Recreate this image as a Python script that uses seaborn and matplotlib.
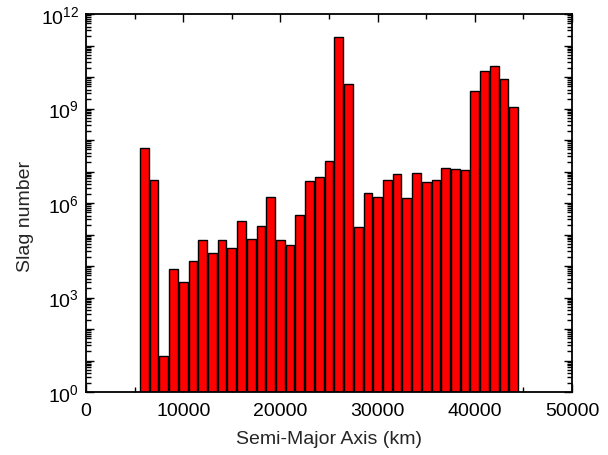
import matplotlib
matplotlib.use("Agg")
import matplotlib.pyplot as plt
import matplotlib.ticker as mticker
import seaborn as sns
import pandas as pd
import numpy as np

# Data (bin centres in km, counts)
semi_major_axis = [6000, 7000, 8000, 9000, 10000, 11000, 12000, 13000, 14000,
                   15000, 16000, 17000, 18000, 19000, 20000, 21000, 22000, 23000,
                   24000, 25000, 26000, 27000, 28000, 29000, 30000, 31000, 32000,
                   33000, 34000, 35000, 36000, 37000, 38000, 39000, 40000, 41000,
                   42000, 43000, 44000]
slag_number = [5.5e7, 5.2e6, 14, 7.8e3, 3.2e3, 1.45e4, 6.6e4, 2.5e4, 6.5e4,
               3.7e4, 2.6e5, 7.2e4, 1.9e5, 1.6e6, 6.9e4, 4.6e4, 4.1e5, 4.9e6,
               6.5e6, 2.1e7, 1.8e11, 6.2e9, 1.7e5, 2.1e6, 1.5e6, 5.4e6, 8.1e6,
               1.4e6, 8.7e6, 4.5e6, 5.4e6, 1.3e7, 1.2e7, 1.1e7, 3.5e9, 1.6e10,
               2.3e10, 8.5e9, 1.1e9]
x_ticks = [0, 10000, 20000, 30000, 40000, 50000]

df = pd.DataFrame({"a": semi_major_axis, "n": slag_number})

sns.set_style("ticks")
plt.rcParams["font.family"] = ["Liberation Sans", "DejaVu Sans"]
plt.rcParams["mathtext.fontset"] = "custom"
plt.rcParams["mathtext.rm"] = "Liberation Sans"
plt.rcParams["mathtext.it"] = "Liberation Sans:italic"

FS = 14

fig = plt.figure(figsize=(6.08, 4.56), dpi=100)
ax = fig.add_axes([86/608, 1-393/456, (572-86)/608, (393-15)/456])

sns.barplot(data=df, x="a", y="n", native_scale=True, width=0.9,
            color="#ff0000", saturation=1, edgecolor="black", linewidth=1.0,
            ax=ax, errorbar=None)

ax.set_yscale("log")
ax.set_ylim(1, 1e12)
ax.set_xlim(0, 50000)

ax.set_xticks(x_ticks)
ax.set_xticklabels([str(v) for v in x_ticks])
ax.xaxis.set_minor_locator(mticker.MultipleLocator(5000))

ax.yaxis.set_major_locator(mticker.LogLocator(base=10, numticks=20))
ax.yaxis.set_minor_locator(mticker.LogLocator(base=10, subs=np.arange(2, 10), numticks=20))
def yfmt(v, pos):
    e = int(round(np.log10(v)))
    if e % 3 == 0:
        return r"$\mathdefault{10^{%d}}$" % e
    return ""
ax.yaxis.set_major_formatter(mticker.FuncFormatter(yfmt))
ax.yaxis.set_minor_formatter(mticker.NullFormatter())

ax.tick_params(which="both", direction="in", top=True, right=True,
               labelsize=FS, colors="black", width=1.0)
ax.tick_params(which="major", length=6)
ax.tick_params(which="minor", length=3.5)
ax.tick_params(axis="x", pad=7)
ax.tick_params(axis="y", pad=5)

for s in ax.spines.values():
    s.set_linewidth(1.3)
    s.set_color("black")
    s.set_visible(True)

ax.set_xlabel("Semi-Major Axis (km)", fontsize=FS, labelpad=8)
ax.set_ylabel("Slag number", fontsize=FS)
ax.yaxis.set_label_coords(-0.107, 0.468)

fig.savefig("out.png", dpi=100)
